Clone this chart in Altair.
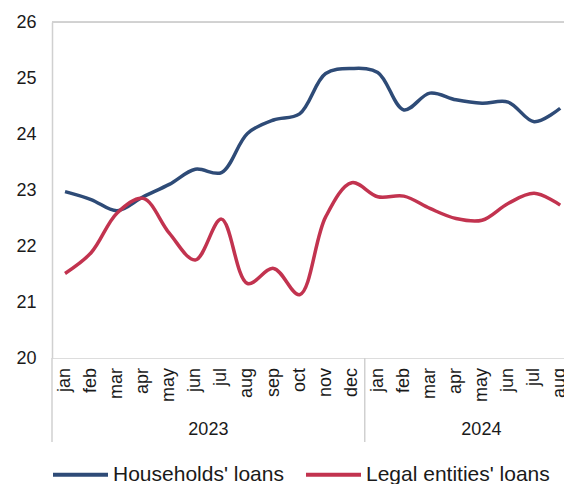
import altair as alt
import pandas as pd

months = ["jan", "feb", "mar", "apr", "may", "jun", "jul", "aug", "sep", "oct", "nov", "dec",
          "jan", "feb", "mar", "apr", "may", "jun", "jul", "aug"]
years = ["2023"] * 12 + ["2024"] * 8
households = [22.97, 22.83, 22.63, 22.88, 23.10, 23.37, 23.31, 24.01, 24.25, 24.36,
              25.08, 25.17, 25.10, 24.43, 24.73, 24.61, 24.55, 24.57, 24.22, 24.46]
legal = [21.51, 21.88, 22.59, 22.85, 22.23, 21.75, 22.48, 21.33, 21.60, 21.13,
         22.52, 23.13, 22.88, 22.89, 22.67, 22.49, 22.46, 22.76, 22.94, 22.73]
series_names = ["Households' loans", "Legal entities' loans"]
series_colors = ["#2E4B77", "#C2334F"]

X_MIN, X_MAX = -0.5, 20.45
FONT = "Liberation Sans"
GRAY = "#D0D0D0"

rows = []
for i, (m, y) in enumerate(zip(months, years)):
    rows.append({"idx": i, "month": m, "year": y, "series": series_names[0], "value": households[i]})
    rows.append({"idx": i, "month": m, "year": y, "series": series_names[1], "value": legal[i]})
df = pd.DataFrame(rows)

# year groups
grp = []
for yname in sorted(set(years)):
    ids = [i for i, y in enumerate(years) if y == yname]
    start = ids[0] - 0.5
    end = min(start + 12, X_MAX)
    grp.append({"year": yname, "start": start, "center": (start + end) / 2})
gdf = pd.DataFrame(grp)

mdf = pd.DataFrame({"idx": list(range(len(months))), "month": months})

xscale = alt.Scale(domain=[X_MIN, X_MAX], range=[0, 546], nice=False, zero=False)

lines = alt.Chart(df).mark_line(interpolate="catmull-rom", strokeWidth=3.5).encode(
    x=alt.X("idx:Q", scale=xscale,
            axis=alt.Axis(title="", labels=False, ticks=False, grid=False,
                          domainColor=GRAY, domainWidth=1.5)),
    y=alt.Y("value:Q", scale=alt.Scale(domain=[20, 26], nice=False, zero=False),
            axis=alt.Axis(title="", values=[20, 21, 22, 23, 24, 25, 26], ticks=False, grid=False,
                          labelPadding=16, labelFontSize=18, labelColor="#1a1a1a",
                          domainColor=GRAY, domainWidth=1.5, labelFont=FONT)),
    color=alt.Color("series:N", scale=alt.Scale(domain=series_names, range=series_colors),
                    legend=alt.Legend(title="", orient="none", legendX=-1, legendY=423,
                                      direction="horizontal", symbolType="stroke",
                                      symbolSize=3025, symbolStrokeWidth=4,
                                      labelFontSize=21, labelFont=FONT, labelColor="#1a1a1a",
                                      labelOffset=3, columnPadding=14, labelLimit=400)),
    order="idx:Q",
)

month_text = alt.Chart(mdf).mark_text(fontSize=18, font=FONT, color="#1a1a1a", angle=270,
                                      align="right", baseline="middle").encode(
    x=alt.X("idx:Q", scale=xscale, axis=None),
    y=alt.value(346),
    text="month:N"
)

top_rule = alt.Chart(gdf).mark_rule(color=GRAY, strokeWidth=1.5).encode(
    x=alt.value(0), x2=alt.value(546), y=alt.value(0)
)

seps = alt.Chart(gdf).mark_rule(color=GRAY, strokeWidth=1.5).encode(
    x=alt.X("start:Q", scale=xscale, axis=None),
    y=alt.value(336), y2=alt.value(420)
)

year_text = alt.Chart(gdf).mark_text(fontSize=18, font=FONT, color="#1a1a1a", baseline="middle").encode(
    x=alt.X("center:Q", scale=xscale, axis=None),
    y=alt.value(408),
    text="year:N"
)

chart = alt.layer(lines, month_text, top_rule, seps, year_text).properties(
    width=512, height=336,
    padding={"left": 52, "top": 22, "right": 0, "bottom": 126},
    autosize=alt.AutoSizeParams(type="none"),
).configure_view(stroke=None).configure(font=FONT)

chart.save("out.html", embed_options={"renderer": "svg", "actions": False})
